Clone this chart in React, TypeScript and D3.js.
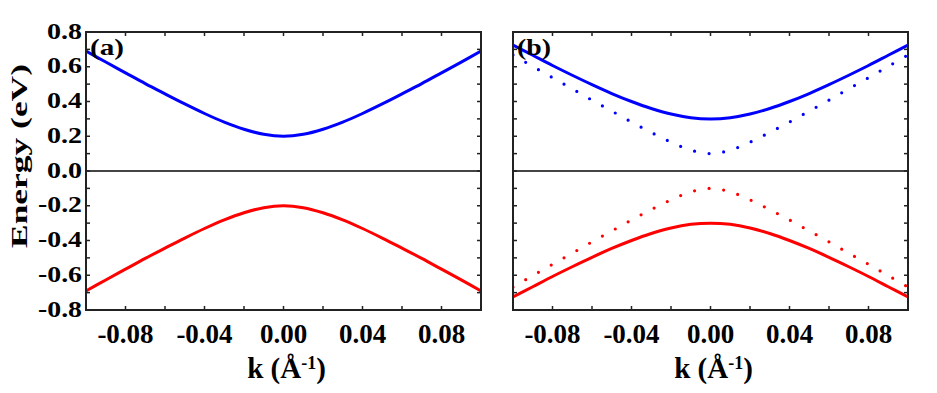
import React from "react";
import * as d3 from "d3";

// ---- data ----
const kValues = [-0.10, -0.09, -0.08, -0.07, -0.06, -0.05, -0.04, -0.03, -0.02, -0.01, 0.00, 0.01, 0.02, 0.03, 0.04, 0.05, 0.06, 0.07, 0.08, 0.09, 0.10];

// panel (a)
const aUpper = [0.690, 0.627, 0.565, 0.503, 0.444, 0.386, 0.331, 0.281, 0.240, 0.211, 0.200, 0.211, 0.240, 0.281, 0.331, 0.386, 0.444, 0.503, 0.565, 0.627, 0.690];
const aLower = [-0.690, -0.627, -0.565, -0.503, -0.444, -0.386, -0.331, -0.281, -0.240, -0.211, -0.200, -0.211, -0.240, -0.281, -0.331, -0.386, -0.444, -0.503, -0.565, -0.627, -0.690];

// panel (b) solid
const bUpper = [0.725, 0.666, 0.607, 0.551, 0.497, 0.446, 0.400, 0.360, 0.328, 0.307, 0.300, 0.307, 0.328, 0.360, 0.400, 0.446, 0.497, 0.551, 0.607, 0.666, 0.725];
const bLower = [-0.725, -0.666, -0.607, -0.551, -0.497, -0.446, -0.400, -0.360, -0.328, -0.307, -0.300, -0.307, -0.328, -0.360, -0.400, -0.446, -0.497, -0.551, -0.607, -0.666, -0.725];

// panel (b) dotted
const bUpperDot = [0.668, 0.602, 0.537, 0.473, 0.408, 0.345, 0.282, 0.222, 0.166, 0.120, 0.100, 0.120, 0.166, 0.222, 0.282, 0.345, 0.408, 0.473, 0.537, 0.602, 0.668];
const bLowerDot = [-0.668, -0.602, -0.537, -0.473, -0.408, -0.345, -0.282, -0.222, -0.166, -0.120, -0.100, -0.120, -0.166, -0.222, -0.282, -0.345, -0.408, -0.473, -0.537, -0.602, -0.668];

const xTickLabels = ["-0.08", "-0.04", "0.00", "0.04", "0.08"];
const xTickValues = [-0.08, -0.04, 0.0, 0.04, 0.08];
const xMinorTicks = [-0.08, -0.06, -0.04, -0.02, 0.0, 0.02, 0.04, 0.06, 0.08];
const yTickLabels = ["0.8", "0.6", "0.4", "0.2", "0.0", "-0.2", "-0.4", "-0.6", "-0.8"];
const yTickValues = [0.8, 0.6, 0.4, 0.2, 0.0, -0.2, -0.4, -0.6, -0.8];
const yMinorTicks = [0.7, 0.6, 0.5, 0.4, 0.3, 0.2, 0.1, 0.0, -0.1, -0.2, -0.3, -0.4, -0.5, -0.6, -0.7];

const BLUE = "#0000ff";
const RED = "#ff0000";
const AXIS = "#222";
const FONT = "Liberation Serif, Times New Roman, Times, serif";

type Series = { values: number[]; color: string; dotted: boolean };

const panels: { id: string; label: string; x0: number; x1: number; showY: boolean; series: Series[] }[] = [
  {
    id: "a", label: "(a)", x0: 86, x1: 481, showY: true,
    series: [
      { values: aUpper, color: BLUE, dotted: false },
      { values: aLower, color: RED, dotted: false },
    ],
  },
  {
    id: "b", label: "(b)", x0: 513, x1: 908, showY: false,
    series: [
      { values: bUpperDot, color: BLUE, dotted: true },
      { values: bLowerDot, color: RED, dotted: true },
      { values: bUpper, color: BLUE, dotted: false },
      { values: bLower, color: RED, dotted: false },
    ],
  },
];

const Y_TOP = 32;
const Y_BOT = 310;

const textStyle: React.CSSProperties = { fontFamily: FONT, fontWeight: 700 };

function Panel({ p }: { p: typeof panels[number] }) {
  const x = d3.scaleLinear().domain([-0.1, 0.1]).range([p.x0, p.x1]);
  const y = d3.scaleLinear().domain([-0.8, 0.8]).range([Y_BOT, Y_TOP]);
  const line = (vals: number[]) =>
    d3.line<number>()
      .x((_, i) => x(kValues[i]))
      .y((v) => y(v))
      .curve(d3.curveCatmullRom.alpha(0.5))(vals) || "";
  const tl = 4;
  const cx = (p.x0 + p.x1) / 2;
  return (
    <g>
      <defs>
        <clipPath id={`clip-${p.id}`}>
          <rect x={p.x0} y={Y_TOP} width={p.x1 - p.x0} height={Y_BOT - Y_TOP} />
        </clipPath>
      </defs>
      <line x1={p.x0} x2={p.x1} y1={y(0)} y2={y(0)} stroke="#444" strokeWidth={1.8} />
      <g clipPath={`url(#clip-${p.id})`}>
        {p.series.map((s, i) => (
          <path
            key={i}
            d={line(s.values)}
            fill="none"
            stroke={s.color}
            strokeWidth={s.dotted ? 3.2 : 3}
            strokeLinecap="round"
            strokeDasharray={s.dotted ? "0 14.7" : undefined}
          />
        ))}
      </g>
      {xMinorTicks.map((t, i) => (
        <g key={"x" + i}>
          <line x1={x(t)} x2={x(t)} y1={Y_BOT} y2={Y_BOT - tl} stroke={AXIS} strokeWidth={1.5} />
          <line x1={x(t)} x2={x(t)} y1={Y_TOP} y2={Y_TOP + tl} stroke={AXIS} strokeWidth={1.5} />
        </g>
      ))}
      {yMinorTicks.map((t, i) => (
        <g key={"y" + i}>
          <line x1={p.x0} x2={p.x0 + tl} y1={y(t)} y2={y(t)} stroke={AXIS} strokeWidth={1.5} />
          <line x1={p.x1} x2={p.x1 - tl} y1={y(t)} y2={y(t)} stroke={AXIS} strokeWidth={1.5} />
        </g>
      ))}
      <rect x={p.x0} y={Y_TOP} width={p.x1 - p.x0} height={Y_BOT - Y_TOP} fill="none" stroke={AXIS} strokeWidth={2} />
      {xTickValues.map((t, i) => (
        <text key={"xl" + i} x={x(t)} y={342.5} textAnchor="middle" style={textStyle} fontSize={27} fill="#000">
          {xTickLabels[i]}
        </text>
      ))}
      {p.showY && yTickValues.map((t, i) => (
        <text key={"yl" + i} x={82} y={y(t) + 6.5} textAnchor="end" style={textStyle} fontSize={24}
          textLength={yTickLabels[i].startsWith("-") ? 44 : 35} lengthAdjust="spacingAndGlyphs" fill="#000">
          {yTickLabels[i]}
        </text>
      ))}
      <text x={p.x0 + 4} y={55} style={textStyle} fontSize={24} textLength={34} lengthAdjust="spacingAndGlyphs" fill="#000">
        {p.label}
      </text>
      <text x={cx + 3} y={378} textAnchor="middle" style={textStyle} fontSize={29} fill="#000">
        <tspan>k (Å</tspan>
        <tspan fontSize={18} dy={-9}>-1</tspan>
        <tspan dy={9}>)</tspan>
      </text>
    </g>
  );
}

export default function App() {
  return (
    <svg width={937} height={393} style={{ position: "absolute", left: 0, top: 0, background: "#fff" }}>
      <rect width={937} height={393} fill="#fff" />
      {panels.map((p) => (
        <Panel key={p.id} p={p} />
      ))}
      <text
        transform="translate(27,156) rotate(-90)"
        textAnchor="middle"
        style={textStyle}
        fontSize={23}
        textLength={184}
        lengthAdjust="spacingAndGlyphs"
        fill="#000"
      >
        Energy (eV)
      </text>
    </svg>
  );
}
